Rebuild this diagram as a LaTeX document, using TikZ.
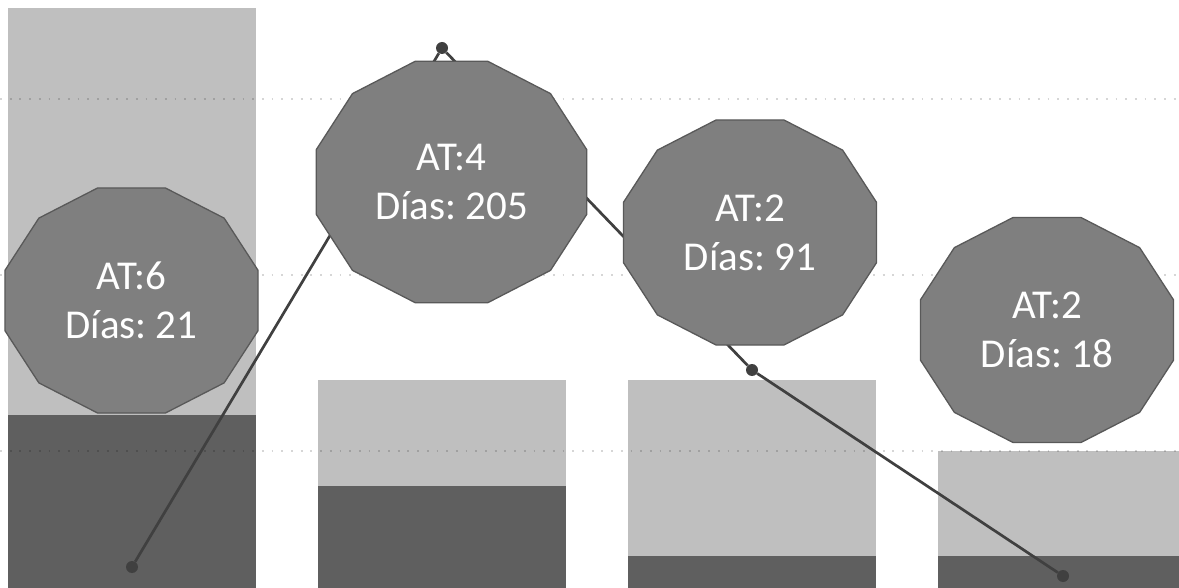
\documentclass[tikz,border=0pt]{standalone}
\usepackage{fontspec}
\setmainfont{Carlito}
\frenchspacing
\definecolor{barlight}{HTML}{BFBFBF}
\definecolor{bardark}{HTML}{5F5F5F}
\definecolor{bubblefill}{HTML}{7F7F7F}
\definecolor{bubbleline}{HTML}{595959}
\definecolor{trend}{HTML}{404040}
\begin{document}
\begin{tikzpicture}[x=1pt, y=-1pt]
        \tikzstyle{grid line}=[draw=black, draw opacity=0.16, line width=1.8pt, dash pattern=on 1.8pt off 7.9pt]
        \tikzstyle{bubble}=[fill=bubblefill, draw=bubbleline, line width=1.3pt]
        \tikzstyle{bubble text}=[text=white, align=center, font=\fontsize{41}{49}\selectfont, inner sep=0pt]
        \tikzstyle{marker}=[circle, fill=trend, inner sep=0pt, minimum size=12pt]
        \useasboundingbox (0,0) rectangle (1179,588);
        % bars
        \fill[barlight] (8,8) rectangle (256,588);
        \fill[bardark] (8,415) rectangle (256,588);
        \fill[barlight] (318,380) rectangle (566,588);
        \fill[bardark] (318,486) rectangle (566,588);
        \fill[barlight] (628,380) rectangle (876,588);
        \fill[bardark] (628,556) rectangle (876,588);
        \fill[barlight] (938,451) rectangle (1179,588);
        \fill[bardark] (938,556) rectangle (1179,588);
        % grid
        \draw[grid line] (0,99) -- (1179,99);
        \draw[grid line] (0,275) -- (1179,275);
        \draw[grid line] (0,451) -- (1179,451);
        % trend line
        \node[marker] (m1) at (132,567) {};
        \node[marker] (m2) at (442,48) {};
        \node[marker] (m3) at (752,370) {};
        \node[marker] (m4) at (1063,576) {};
        \draw[trend, line width=2.7pt] (m1) -- (m2) -- (m3) -- (m4);
        % bubbles
        \coordinate (c1) at (131.5,300.5);
        \draw[bubble] (c1) +(15:131 and 116.5) \foreach \a in {45,75,...,345} {-- +(\a:131 and 116.5)} -- cycle;
        \node[bubble text] (at6) at (c1) {AT:6\\Días: 21};
        \coordinate (c2) at (451.5,182);
        \draw[bubble] (c2) +(15:140 and 125) \foreach \a in {45,75,...,345} {-- +(\a:140 and 125)} -- cycle;
        \node[bubble text] (at4) at (c2) {AT:4\\Días: 205};
        \coordinate (c3) at (750,232.5);
        \draw[bubble] (c3) +(15:131 and 116.5) \foreach \a in {45,75,...,345} {-- +(\a:131 and 116.5)} -- cycle;
        \node[bubble text] (at2a) at (c3) {AT:2\\Días: 91};
        \coordinate (c4) at (1047,330);
        \draw[bubble] (c4) +(15:131 and 116.5) \foreach \a in {45,75,...,345} {-- +(\a:131 and 116.5)} -- cycle;
        \node[bubble text] (at2b) at (c4) {AT:2\\Días: 18};
    \end{tikzpicture}
\end{document}
